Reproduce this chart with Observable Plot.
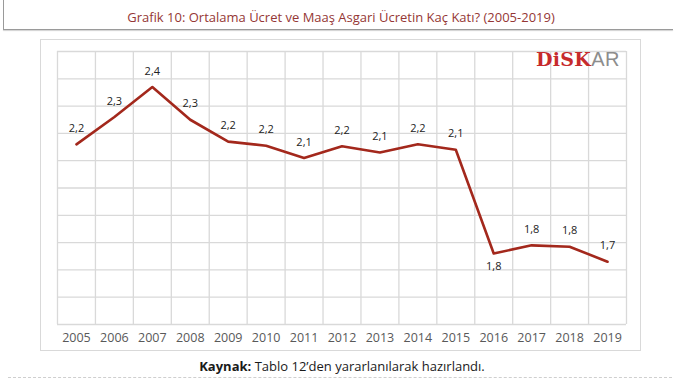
<!DOCTYPE html>
<html>
<head>
<meta charset="utf-8">
<script src="https://cdn.jsdelivr.net/npm/d3@7"></script>
<script src="https://cdn.jsdelivr.net/npm/@observablehq/plot@0.6"></script>
<style>
  html, body { margin: 0; padding: 0; background: #fff; }
  #page { position: relative; width: 678px; height: 383px; overflow: hidden; font-family: "Open Sans", sans-serif; }
  #topline { position: absolute; left: 3px; top: 29px; width: 670px; height: 0; border-top: 1.5px solid #9a9a9a; box-shadow: 0 1px 1px #ccc; }
  #leftline { position: absolute; left: 3px; top: 0; width: 0; height: 30px; border-left: 1px solid #9a9a9a; }
  #title { position: absolute; left: 0; width: 682px; top: 8px; text-align: center; font-size: 13px; color: #953735; white-space: nowrap; }
  #frame { position: absolute; left: 40px; top: 39px; width: 599px; height: 310px; border: 1px solid #d9d9d9; }
  #chart { position: absolute; left: 40px; top: 39px; }
  #logo { position: absolute; left: 536px; top: 49px; white-space: nowrap; line-height: 1; }
  #logo .d { font-family: "DejaVu Serif", serif; font-weight: bold; font-size: 19px; color: #c62a2c; letter-spacing: 0.3px; }
  #logo .a { font-family: "Liberation Sans", sans-serif; font-size: 20px; color: #8d8d8d; letter-spacing: 0.5px; }
  #caption { position: absolute; left: 0; width: 684px; top: 357px; text-align: center; font-size: 13px; color: #1a1a1a; white-space: nowrap; }
  #dotline { position: absolute; left: 8px; top: 377px; width: 664px; height: 0; border-top: 1px dashed #cfcfcf; }
</style>
</head>
<body>
<div id="page">
  <div id="leftline"></div>
  <div id="title">Grafik 10: Ortalama Ücret ve Maaş Asgari Ücretin Kaç Katı? (2005-2019)</div>
  <div id="topline"></div>
  <div id="frame"></div>
  <div id="chart"></div>
  <div id="logo"><span class="d">DiSK</span><span class="a">AR</span></div>
  <div id="caption"><b>Kaynak:</b> Tablo 12’den yararlanılarak hazırlandı.</div>
  <div id="dotline"></div>
</div>
<script>
const years = [2005, 2006, 2007, 2008, 2009, 2010, 2011, 2012, 2013, 2014, 2015, 2016, 2017, 2018, 2019];
const ratio = [2.16, 2.26, 2.37, 2.25, 2.17, 2.155, 2.11, 2.153, 2.13, 2.16, 2.14, 1.76, 1.79, 1.785, 1.73];
const labels = ["2,2", "2,3", "2,4", "2,3", "2,2", "2,2", "2,1", "2,2", "2,1", "2,2", "2,1", "1,8", "1,8", "1,8", "1,7"];
const belowYears = [2016];
const yTicks = [1.5, 1.6, 1.7, 1.8, 1.9, 2.0, 2.1, 2.2, 2.3, 2.4, 2.5];

const data = years.map((y, i) => ({year: y, value: ratio[i], label: labels[i]}));
const xEdges = years.map(y => y - 0.5).concat([years[years.length - 1] + 0.5]);

const chart = Plot.plot({
  width: 600,
  height: 311,
  marginLeft: 17,
  marginRight: 14,
  marginTop: 12,
  marginBottom: 26,
  style: {fontFamily: "Open Sans, sans-serif", background: "transparent", overflow: "visible"},
  x: {domain: [years[0] - 0.5, years[years.length - 1] + 0.5]},
  y: {domain: [yTicks[0], yTicks[yTicks.length - 1]], axis: null},
  marks: [
    Plot.gridY(yTicks, {stroke: "#d9d9d9", strokeOpacity: 1, strokeWidth: 1.3}),
    Plot.ruleX(xEdges, {stroke: "#d9d9d9", strokeOpacity: 1, strokeWidth: 1.3}),
    Plot.axisX({ticks: years, tickFormat: d => String(d), tickSize: 0, tickPadding: 9, label: null, fill: "#595959", fontSize: 12.5}),
    Plot.line(data, {x: "year", y: "value", stroke: "#a3281c", strokeWidth: 2.6}),
    Plot.text(data.filter(d => !belowYears.includes(d.year)), {x: "year", y: "value", text: "label", dy: -16, fontSize: 11, fill: "#222"}),
    Plot.text(data.filter(d => belowYears.includes(d.year)), {x: "year", y: "value", text: "label", dy: 13, fontSize: 11, fill: "#222"})
  ]
});
document.getElementById("chart").appendChild(chart);
</script>
</body>
</html>
